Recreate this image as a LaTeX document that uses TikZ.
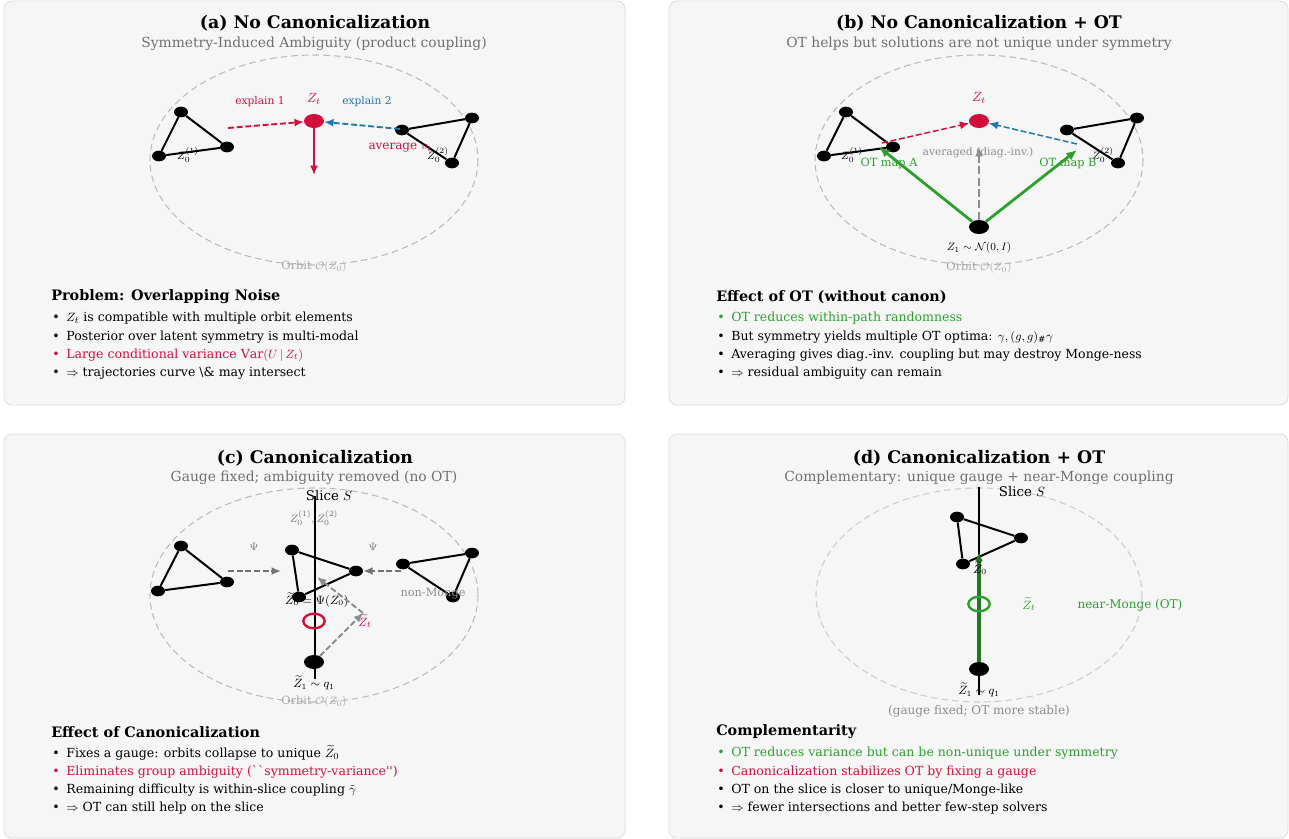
\documentclass[tikz,border=0pt]{standalone}
\usepackage{amsmath}
\usepackage{amssymb}
\usepackage{fontspec}
\setmainfont{DejaVu Serif}[Ligatures=TeXOff]
\usetikzlibrary{arrows.meta,shapes.geometric}

\definecolor{panelfill}{HTML}{F6F6F6}
\definecolor{panelline}{HTML}{DDDDDD}
\definecolor{crim}{HTML}{D0103A}
\definecolor{okblue}{HTML}{1F77B4}
\definecolor{okgreen}{HTML}{2CA02C}
\definecolor{orbitgray}{HTML}{BBBBBB}
\definecolor{subgray}{HTML}{707070}

\tikzset{
  panel/.style={draw=panelline, fill=panelfill, rounded corners=6pt, line width=0.6pt},
  ptitle/.style={font=\fontsize{13}{15}\selectfont\bfseries},
  psub/.style={font=\fontsize{10.4}{12}\selectfont, text=subgray},
  head/.style={anchor=west, inner sep=0pt, font=\fontsize{10.8}{12}\selectfont\bfseries},
  item/.style={anchor=west, inner sep=0pt, font=\fontsize{9.4}{10}\selectfont},
  lbl/.style={font=\fontsize{8}{9}\selectfont},
  orbit/.style={draw=orbitgray, dashed, dash pattern=on 5pt off 3pt, line width=0.8pt},
  orbitlbl/.style={font=\fontsize{8.5}{10}\selectfont, text=black!35},
  vtx/.style={ellipse, fill=black, minimum width=10.5pt, minimum height=8pt, inner sep=0pt},
  bigdot/.style={ellipse, fill=#1, minimum width=15pt, minimum height=10.5pt, inner sep=0pt},
  ring/.style={ellipse, draw=#1, line width=1.8pt, minimum width=16pt, minimum height=11pt, inner sep=0pt},
  edge/.style={line width=1.5pt},
  arr/.style={-{Latex[length=7pt,width=6pt]}, line width=1.6pt},
  darr/.style={-{Latex[length=7pt,width=6pt]}, line width=1.4pt, dash pattern=on 4.5pt off 2pt}
}

\begin{document}
\begin{tikzpicture}[x=0.75pt, y=-0.75pt, every node/.append style={inner sep=1pt}]
\useasboundingbox (0,0) rectangle (1289,839);

% the four panels
\draw[panel] (4,1) rectangle (625,405);
\draw[panel] (669,1) rectangle (1288,405);
\draw[panel] (4,434) rectangle (625,838);
\draw[panel] (669,434) rectangle (1288,838);

%% (a) No Canonicalization
\node[ptitle] (ta) at (315,23) {(a) No Canonicalization};
\node[psub] (sa) at (314,44) {Symmetry-Induced Ambiguity (product coupling)};
\draw[orbit] (314,160) ellipse [x radius=164, y radius=105];
\node[orbitlbl] (oa) at (314,267) {Orbit $\mathcal{O}(Z_0)$};

% first orbit element
\node[vtx] (a1) at (181,112) {};
\node[vtx] (a2) at (227,147) {};
\node[vtx] (a3) at (159,156) {};
\draw[edge] (a1) -- (a2) -- (a3) -- (a1);
\node[lbl, font=\fontsize{8.5}{9}\selectfont] (la1) at (188,155) {$Z_0^{(1)}$};
% second orbit element
\node[vtx] (a4) at (402,130) {};
\node[vtx] (a5) at (472,118) {};
\node[vtx] (a6) at (452,163) {};
\draw[edge] (a4) -- (a5) -- (a6) -- (a4);
\node[lbl, font=\fontsize{8.5}{9}\selectfont] (la2) at (438,155) {$Z_0^{(2)}$};

% noisy sample
\node[bigdot=crim] (zta) at (314,121) {};
\node[lbl, text=crim, font=\fontsize{10}{11}\selectfont] (lzta) at (314,99) {$Z_t$};
\node[lbl, text=crim] (ex1) at (260,102) {explain 1};
\node[lbl, text=okblue] (ex2) at (367,102) {explain 2};
\coordinate (ea) at (228,128);
\coordinate (eb) at (400,129);
\coordinate (va) at (314,175);
\draw[darr, crim] (ea) -- (zta);
\draw[darr, okblue] (eb) -- (zta);
\draw[arr, crim, line width=2pt] (zta) -- (va);
\node[lbl, text=crim, font=\fontsize{9}{10}\selectfont] (avg) at (400,148) {average $v_t$};

% text block (a)
\node[head] (ha) at (51,297) {Problem: Overlapping Noise};
\node[item] (a1t) at (52,318) {\textbullet\hspace{5pt}$Z_t$ is compatible with multiple orbit elements};
\node[item] (a2t) at (52,337) {\textbullet\hspace{5pt}Posterior over latent symmetry is multi-modal};
\node[item, text=crim] (a3t) at (52,355) {\textbullet\hspace{5pt}Large conditional variance $\mathrm{Var}(U\,|\,Z_t)$};
\node[item] (a4t) at (52,373) {\textbullet\hspace{5pt}$\Rightarrow$ trajectories curve \textbackslash\& may intersect};

%% (b) No Canonicalization + OT
\node[ptitle] (tb) at (979,23) {(b) No Canonicalization + OT};
\node[psub] (sb) at (979,44) {OT helps but solutions are not unique under symmetry};
\draw[orbit] (979,160) ellipse [x radius=164, y radius=105];
\node[orbitlbl] (ob) at (979,268) {Orbit $\mathcal{O}(Z_0)$};

\node[vtx] (b1) at (846,112) {};
\node[vtx] (b2) at (893,147) {};
\node[vtx] (b3) at (824,156) {};
\draw[edge] (b1) -- (b2) -- (b3) -- (b1);
\node[lbl, font=\fontsize{8.5}{9}\selectfont] (lb1) at (852,155) {$Z_0^{(1)}$};
\node[vtx] (b4) at (1067,130) {};
\node[vtx] (b5) at (1137,118) {};
\node[vtx] (b6) at (1118,163) {};
\draw[edge] (b4) -- (b5) -- (b6) -- (b4);
\node[lbl, font=\fontsize{8.5}{9}\selectfont] (lb2) at (1103,155) {$Z_0^{(2)}$};

\node[bigdot=crim] (ztb) at (979,121) {};
\node[lbl, text=crim, font=\fontsize{10}{11}\selectfont] (lztb) at (979,98) {$Z_t$};
\node[bigdot=black] (z1b) at (979,227) {};
\node[lbl, font=\fontsize{8.5}{9}\selectfont] (lz1b) at (979,248) {$Z_1\sim\mathcal{N}(0,I)$};
\coordinate (pa) at (882,143);
\coordinate (pb) at (1077,144);
\coordinate (ga) at (879,147);
\coordinate (gb) at (1077,150);
\coordinate (gm) at (979,147);
\node[lbl, text=black!45] (avb) at (978,153) {averaged (diag.-inv.)};
\draw[darr, crim, line width=1.1pt] (pa) -- (ztb);
\draw[darr, okblue, line width=1.1pt] (pb) -- (ztb);
\draw[arr, okgreen, line width=2.1pt, -{Latex[length=8pt,width=7pt]}] (z1b) -- (ga);
\draw[arr, okgreen, line width=2.1pt, -{Latex[length=8pt,width=7pt]}] (z1b) -- (gb);
\draw[darr, black!45, line width=2pt, dash pattern=on 6pt off 2.5pt] (z1b) -- (gm);
\node[lbl, text=okgreen, font=\fontsize{8.5}{9}\selectfont] (ma) at (889,163) {OT map A};
\node[lbl, text=okgreen, font=\fontsize{8.5}{9}\selectfont] (mb) at (1068,163) {OT map B};

% text block (b)
\node[head] (hb) at (716,297) {Effect of OT (without canon)};
\node[item, text=okgreen] (b1t) at (717,318) {\textbullet\hspace{5pt}OT reduces within-path randomness};
\node[item] (b2t) at (717,337) {\textbullet\hspace{5pt}But symmetry yields multiple OT optima: $\gamma,(g,g)_{\#}\gamma$};
\node[item] (b3t) at (717,355) {\textbullet\hspace{5pt}Averaging gives diag.-inv. coupling but may destroy Monge-ness};
\node[item] (b4t) at (717,373) {\textbullet\hspace{5pt}$\Rightarrow$ residual ambiguity can remain};

%% (c) Canonicalization
\node[ptitle] (tc) at (315,458) {(c) Canonicalization};
\node[psub] (sc) at (314,478) {Gauge fixed; ambiguity removed (no OT)};
\draw[orbit] (314,595) ellipse [x radius=164, y radius=107];
\node[orbitlbl] (oc) at (314,702) {Orbit $\mathcal{O}(Z_0)$};

% slice
\coordinate (sct) at (315,496);
\coordinate (scb) at (315,679);
\draw[line width=1.7pt] (sct) -- (scb);
\node[font=\fontsize{10}{11}\selectfont] (lsc) at (329,496) {Slice $S$};
\node[lbl, text=black!55, font=\fontsize{8.5}{9}\selectfont] (lzz) at (314,518) {$Z_0^{(1)},Z_0^{(2)}$};

\node[vtx] (c1) at (181,546) {};
\node[vtx] (c2) at (227,582) {};
\node[vtx] (c3) at (158,591) {};
\draw[edge] (c1) -- (c2) -- (c3) -- (c1);
\node[vtx] (c4) at (292,550) {};
\node[vtx] (c5) at (356,571) {};
\node[vtx] (c6) at (299,597) {};
\draw[edge] (c4) -- (c5) -- (c6) -- (c4);
\node[vtx] (c7) at (403,564) {};
\node[vtx] (c8) at (472,553) {};
\node[vtx] (c9) at (453,597) {};
\draw[edge] (c7) -- (c8) -- (c9) -- (c7);

\coordinate (psl) at (228,571);
\coordinate (psr) at (281,571);
\coordinate (pql) at (401,571);
\draw[darr, black!55] (psl) -- (psr);
\draw[darr, black!55] (pql) -- (c5);
\node[lbl, text=black!55] (psi1) at (254,547) {$\Psi$};
\node[lbl, text=black!55] (psi2) at (373,547) {$\Psi$};
\node[lbl, text=black!45, font=\fontsize{8.5}{9}\selectfont] (nm) at (433,594) {non-Monge};
\node[font=\fontsize{9}{10}\selectfont] (lz0c) at (317,600) {$\widetilde{Z}_0=\Psi(Z_0)$};

\node[ring=crim] (ztc) at (314,621) {};
\node[bigdot=black] (z1c) at (314,662) {};
\node[lbl, font=\fontsize{9}{10}\selectfont] (lz1c) at (314,683) {$\widetilde{Z}_1\sim q_1$};
\coordinate (tt) at (363,613);
\coordinate (tu) at (317,577);
\draw[darr, black!45] (z1c) -- (tt);
\draw[darr, black!45] (tt) -- (tu);
\node[lbl, text=crim, font=\fontsize{9.5}{10}\selectfont] (lztc) at (365,621) {$\widetilde{Z}_t$};

% text block (c)
\node[head] (hc) at (51,732) {Effect of Canonicalization};
\node[item] (c1t) at (52,753) {\textbullet\hspace{5pt}Fixes a gauge: orbits collapse to unique $\widetilde{Z}_0$};
\node[item, text=crim] (c2t) at (52,772) {\textbullet\hspace{5pt}Eliminates group ambiguity (``symmetry-variance'')};
\node[item] (c3t) at (52,790) {\textbullet\hspace{5pt}Remaining difficulty is within-slice coupling $\tilde{\gamma}$};
\node[item] (c4t) at (52,808) {\textbullet\hspace{5pt}$\Rightarrow$ OT can still help on the slice};

%% (d) Canonicalization + OT
\node[ptitle] (td) at (979,458) {(d) Canonicalization + OT};
\node[psub] (sd) at (979,478) {Complementary: unique gauge + near-Monge coupling};
\draw[orbit, draw=black!20] (979,595) ellipse [x radius=163, y radius=107];

\coordinate (sdt) at (979,487);
\coordinate (sdb) at (979,695);
\draw[line width=1.7pt] (sdt) -- (sdb);
\node[font=\fontsize{10}{11}\selectfont] (lsd) at (1022,492) {Slice $S$};

\node[vtx] (d1) at (957,517) {};
\node[vtx] (d2) at (1021,538) {};
\node[vtx] (d3) at (963,564) {};
\draw[edge] (d1) -- (d2) -- (d3) -- (d1);

\node[bigdot=black] (z1d) at (979,669) {};
\coordinate (dtip) at (979,552);
\draw[arr, okgreen!75!black, line width=2.3pt] (z1d) -- (dtip);
\node[ring=okgreen] (ztd) at (979,604) {};
\node[lbl, font=\fontsize{9}{10}\selectfont] (lz0d) at (980,568) {$\widetilde{Z}_0$};
\node[lbl, text=okgreen, font=\fontsize{9.5}{10}\selectfont] (lztd) at (1029,604) {$\widetilde{Z}_t$};
\node[lbl, text=okgreen, font=\fontsize{9}{10}\selectfont] (nmd) at (1130,605) {near-Monge (OT)};
\node[lbl, font=\fontsize{9}{10}\selectfont] (lz1d) at (979,690) {$\widetilde{Z}_1\sim q_1$};
\node[lbl, text=black!45, font=\fontsize{9}{10}\selectfont] (gf) at (979,711) {(gauge fixed; OT more stable)};

% text block (d)
\node[head] (hd) at (716,732) {Complementarity};
\node[item, text=okgreen] (d1t) at (717,753) {\textbullet\hspace{5pt}OT reduces variance but can be non-unique under symmetry};
\node[item, text=crim] (d2t) at (717,772) {\textbullet\hspace{5pt}Canonicalization stabilizes OT by fixing a gauge};
\node[item] (d3t) at (717,790) {\textbullet\hspace{5pt}OT on the slice is closer to unique/Monge-like};
\node[item] (d4t) at (717,808) {\textbullet\hspace{5pt}$\Rightarrow$ fewer intersections and better few-step solvers};
\end{tikzpicture}
\end{document}
